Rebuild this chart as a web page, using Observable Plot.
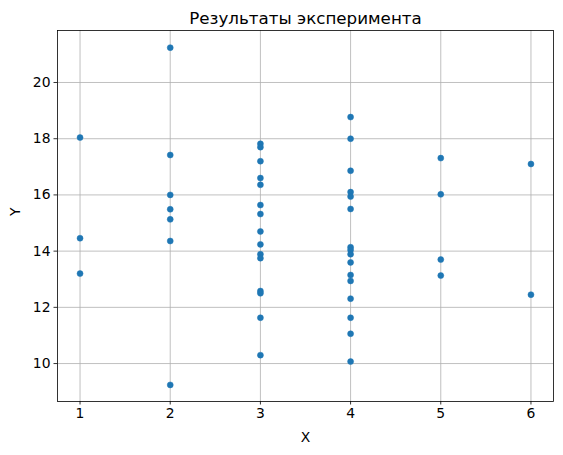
<!DOCTYPE html>
<html><head><meta charset="utf-8">
<script src="https://cdn.jsdelivr.net/npm/d3@7"></script>
<script src="https://cdn.jsdelivr.net/npm/@observablehq/plot@0.6"></script>
<style>body{margin:0;background:white}</style>
</head><body><div id="chart"></div>
<script>
const title = "Результаты эксперимента";
const xLabel = "X";
const yLabel = "Y";
const xTicks = [1, 2, 3, 4, 5, 6];
const yTicks = [10, 12, 14, 16, 18, 20];
const xValues = [
  1, 1, 1,
  2, 2, 2, 2, 2, 2, 2,
  3, 3, 3, 3, 3, 3, 3, 3, 3, 3, 3, 3, 3, 3, 3,
  4, 4, 4, 4, 4, 4, 4, 4, 4, 4, 4, 4, 4, 4, 4, 4,
  5, 5, 5, 5,
  6, 6
];
const yValues = [
  18.04, 14.46, 13.20,
  21.24, 17.42, 16.00, 15.49, 15.13, 14.36, 9.24,
  17.82, 17.70, 17.20, 16.60, 16.36, 15.64, 15.32, 14.70, 14.24, 13.89, 13.75, 12.58, 12.50, 11.63, 10.30,
  18.77, 18.00, 16.86, 16.10, 15.94, 15.50, 14.14, 14.04, 13.89, 13.60, 13.15, 12.94, 12.31, 11.63, 11.06, 10.07,
  17.31, 16.02, 13.70, 13.13,
  17.10, 12.45
];
const data = xValues.map((x, i) => ({x, y: yValues[i]}));
const font = "DejaVu Sans, sans-serif";

const chart = Plot.plot({
  width: 563, height: 455,
  marginTop: 30, marginBottom: 54, marginLeft: 57, marginRight: 10,
  style: {fontFamily: font, fontSize: "13.9px", background: "white", color: "black"},
  x: {domain: [0.75, 6.25]},
  y: {domain: [8.65, 21.85]},
  marks: [
    Plot.gridX(xTicks, {stroke: "#b0b0b0", strokeOpacity: 1, strokeWidth: 0.8}),
    Plot.gridY(yTicks, {stroke: "#b0b0b0", strokeOpacity: 1, strokeWidth: 0.8}),
    Plot.dot(data, {x: "x", y: "y", r: 3, fill: "#1f77b4", stroke: "#1f77b4", strokeWidth: 0.5}),
    Plot.frame({stroke: "black", strokeWidth: 0.8}),
    Plot.axisX(xTicks, {tickSize: 3.5, tickPadding: 3.5, label: null, strokeWidth: 0.8, fontSize: 13.9}),
    Plot.axisY(yTicks, {tickSize: 3.5, tickPadding: 3.5, label: null, strokeWidth: 0.8, fontSize: 13.9}),
    Plot.text([title], {frameAnchor: "top", lineAnchor: "middle", dy: -12, fontSize: 16.7, fill: "black"}),
    Plot.text([xLabel], {frameAnchor: "bottom", lineAnchor: "middle", dy: 36, fontSize: 13.9, fill: "black"}),
    Plot.text([yLabel], {frameAnchor: "left", dx: -42, rotate: -90, fontSize: 13.9, fill: "black"})
  ]
});
document.getElementById("chart").append(chart);
</script>
</body></html>
